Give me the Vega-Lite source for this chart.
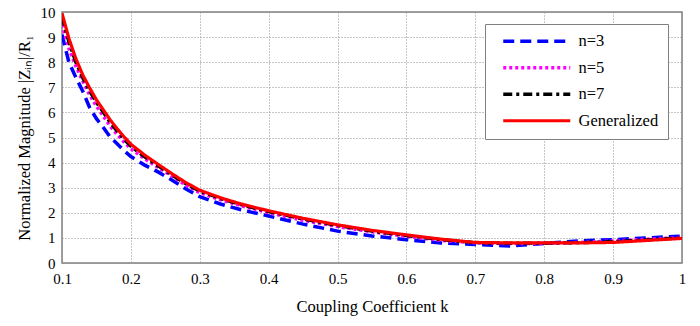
{
  "$schema": "https://vega.github.io/schema/vega-lite/v6.json",
  "width": 620,
  "height": 251,
  "autosize": {"type": "none"},
  "padding": {"left": 62, "top": 12, "right": 18, "bottom": 63},
  "background": "white",
  "config": {
    "font": "Times New Roman, Liberation Serif, serif",
    "view": {"stroke": "#808080", "strokeWidth": 1.5},
    "axis": {
      "labelFont": "Times New Roman, Liberation Serif, serif",
      "labelFontSize": 15,
      "labelColor": "#000",
      "labelFlush": false,
      "titleFont": "Times New Roman, Liberation Serif, serif",
      "titleFontSize": 16.5,
      "titleFontWeight": "normal",
      "titleColor": "#000",
      "gridColor": "#8c8c8c",
      "gridDash": [1, 2],
      "gridWidth": 1,
      "gridOpacity": 1,
      "domain": false,
      "ticks": false
    }
  },
  "data": {
    "values": [
      {"k": 0.10, "n=3": 9.1, "n=5": 9.5, "n=7": 9.8, "Generalized": 9.95},
      {"k": 0.11, "n=3": 8.0, "n=5": 8.55, "n=7": 8.8, "Generalized": 8.95},
      {"k": 0.12, "n=3": 7.4, "n=5": 7.85, "n=7": 8.0, "Generalized": 8.15},
      {"k": 0.13, "n=3": 6.85, "n=5": 7.25, "n=7": 7.38, "Generalized": 7.5},
      {"k": 0.14, "n=3": 6.2, "n=5": 6.7, "n=7": 6.85, "Generalized": 6.98},
      {"k": 0.15, "n=3": 5.75, "n=5": 6.25, "n=7": 6.4, "Generalized": 6.5},
      {"k": 0.16, "n=3": 5.4, "n=5": 5.85, "n=7": 6.0, "Generalized": 6.1},
      {"k": 0.17, "n=3": 5.02, "n=5": 5.45, "n=7": 5.6, "Generalized": 5.7},
      {"k": 0.18, "n=3": 4.75, "n=5": 5.12, "n=7": 5.25, "Generalized": 5.35},
      {"k": 0.19, "n=3": 4.48, "n=5": 4.82, "n=7": 4.93, "Generalized": 5.03},
      {"k": 0.20, "n=3": 4.24, "n=5": 4.55, "n=7": 4.65, "Generalized": 4.73},
      {"k": 0.22, "n=3": 3.9, "n=5": 4.15, "n=7": 4.23, "Generalized": 4.3},
      {"k": 0.24, "n=3": 3.62, "n=5": 3.8, "n=7": 3.86, "Generalized": 3.92},
      {"k": 0.26, "n=3": 3.3, "n=5": 3.45, "n=7": 3.5, "Generalized": 3.55},
      {"k": 0.28, "n=3": 2.95, "n=5": 3.1, "n=7": 3.15, "Generalized": 3.2},
      {"k": 0.30, "n=3": 2.64, "n=5": 2.8, "n=7": 2.86, "Generalized": 2.9},
      {"k": 0.33, "n=3": 2.35, "n=5": 2.52, "n=7": 2.57, "Generalized": 2.6},
      {"k": 0.36, "n=3": 2.12, "n=5": 2.28, "n=7": 2.32, "Generalized": 2.35},
      {"k": 0.40, "n=3": 1.87, "n=5": 2.0, "n=7": 2.05, "Generalized": 2.08},
      {"k": 0.45, "n=3": 1.55, "n=5": 1.7, "n=7": 1.75, "Generalized": 1.78},
      {"k": 0.50, "n=3": 1.27, "n=5": 1.45, "n=7": 1.49, "Generalized": 1.52},
      {"k": 0.55, "n=3": 1.08, "n=5": 1.24, "n=7": 1.27, "Generalized": 1.3},
      {"k": 0.60, "n=3": 0.93, "n=5": 1.06, "n=7": 1.09, "Generalized": 1.12},
      {"k": 0.65, "n=3": 0.8, "n=5": 0.9, "n=7": 0.93, "Generalized": 0.95},
      {"k": 0.70, "n=3": 0.74, "n=5": 0.8, "n=7": 0.81, "Generalized": 0.82},
      {"k": 0.75, "n=3": 0.68, "n=5": 0.77, "n=7": 0.79, "Generalized": 0.8},
      {"k": 0.80, "n=3": 0.78, "n=5": 0.78, "n=7": 0.79, "Generalized": 0.8},
      {"k": 0.85, "n=3": 0.88, "n=5": 0.82, "n=7": 0.81, "Generalized": 0.8},
      {"k": 0.90, "n=3": 0.93, "n=5": 0.88, "n=7": 0.85, "Generalized": 0.82},
      {"k": 0.95, "n=3": 1.0, "n=5": 0.95, "n=7": 0.92, "Generalized": 0.9},
      {"k": 1.00, "n=3": 1.07, "n=5": 1.02, "n=7": 1.0, "Generalized": 0.98}
    ]
  },
  "transform": [
    {"fold": ["n=3", "n=5", "n=7", "Generalized"], "as": ["series", "value"]}
  ],
  "mark": {"type": "line", "clip": true},
  "encoding": {
    "x": {
      "field": "k",
      "type": "quantitative",
      "scale": {"domain": [0.1, 1], "nice": false},
      "axis": {
        "values": [0.1, 0.2, 0.3, 0.4, 0.5, 0.6, 0.7, 0.8, 0.9, 1],
        "format": "~g",
        "labelPadding": 8,
        "title": "Coupling Coefficient k",
        "titlePadding": 12
      }
    },
    "y": {
      "field": "value",
      "type": "quantitative",
      "scale": {"domain": [0, 10], "nice": false},
      "axis": {
        "values": [0, 1, 2, 3, 4, 5, 6, 7, 8, 9, 10],
        "labelPadding": 7,
        "title": "Normalized Magnitude |Zᵢₙ|/R₁",
        "titlePadding": 8
      }
    },
    "color": {
      "field": "series",
      "type": "nominal",
      "scale": {
        "domain": ["n=3", "n=5", "n=7", "Generalized"],
        "range": ["#0000ff", "#ff00ff", "#000000", "#ff0000"]
      },
      "legend": {
        "title": null,
        "orient": "none",
        "legendX": 423,
        "legendY": 12,
        "symbolType": "M-1,0H15.75",
        "symbolSize": 64,
        "symbolOffset": 5,
        "labelOffset": 63,
        "labelFont": "Times New Roman, Liberation Serif, serif",
        "labelFontSize": 16.5,
        "labelColor": "#000",
        "padding": 9,
        "rowPadding": 9.5,
        "strokeColor": "#808080",
        "fillColor": "white",
        "cornerRadius": 0
      }
    },
    "strokeDash": {
      "field": "series",
      "type": "nominal",
      "scale": {
        "domain": ["n=3", "n=5", "n=7", "Generalized"],
        "range": [[11, 6], [3, 3], [9, 4, 3, 4], [1, 0]]
      },
      "legend": null
    },
    "strokeWidth": {
      "field": "series",
      "type": "nominal",
      "scale": {
        "domain": ["n=3", "n=5", "n=7", "Generalized"],
        "range": [3.5, 3.2, 2.6, 4]
      },
      "legend": null
    }
  }
}
